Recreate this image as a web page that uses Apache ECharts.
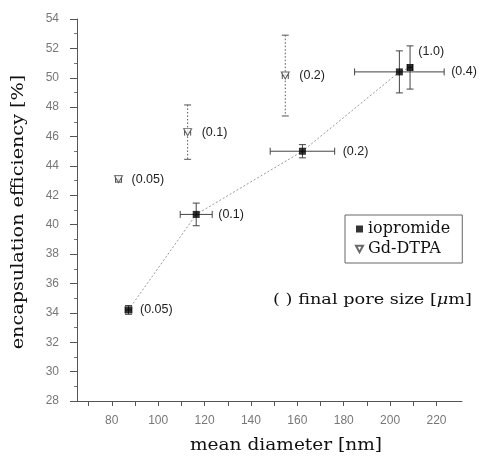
<!DOCTYPE html>
<html>
<head>
<meta charset="utf-8">
<script src="https://cdn.jsdelivr.net/npm/echarts@6/dist/echarts.min.js"></script>
<style>html,body{margin:0;padding:0;background:#fff}#c{width:480px;height:460px}</style>
</head>
<body>
<div id="c"></div>
<script>
// ---- data ----
const ioX    = [87.2, 116.4, 162.2, 204.0, 208.6];
const ioY    = [34.2, 40.7, 45.0, 50.4, 50.7];
const ioXErr = [1.5, 6.9, 13.9, 19.3, 1.0];
const ioYErr = [0.3, 0.77, 0.45, 1.43, 1.47];
const ioPore = ['(0.05)', '(0.1)', '(0.2)', '(0.4)', '(1.0)'];

const gdX    = [82.9, 112.7, 154.8];
const gdY    = [43.1, 46.3, 50.15];
const gdXErr = [1.3, 1.3, 1.3];
const gdYErr = [0.2, 1.85, 2.75];
const gdPore = ['(0.05)', '(0.1)', '(0.2)'];

const xTickValues  = [70, 80, 90, 100, 110, 120, 130, 140, 150, 160, 170, 180, 190, 200, 210, 220];
const xLabelValues = [80, 100, 120, 140, 160, 180, 200, 220];

const xTitle = 'mean diameter [nm]';
const yTitle = 'encapsulation efficiency [%]';
const noteText = '( ) final pore size [{i|μ}m]';

// label placement tweaks (styles, not data)
const ioLabelGap = [8, 6, 8, 7, 6];
const ioLabelDy  = [0, 0, 0, 0, -16];
const gdLabelGap = [10, 11, 11];

const serif = '"DejaVu Serif", "Liberation Serif", serif';
const sans = '"Liberation Sans", "DejaVu Sans", sans-serif';

function errRender(labels, gaps, dys, opts) {
  return function (params, api) {
    const i = params.dataIndex;
    const x = api.value(0), y = api.value(1), dx = api.value(2), dy = api.value(3);
    const c = api.coord([x, y]);
    const l = api.coord([x - dx, y]);
    const r = api.coord([x + dx, y]);
    const t = api.coord([x, y + dy]);
    const b = api.coord([x, y - dy]);
    const cap = 3.5;
    const hs = { stroke: opts.color, lineWidth: 1, lineDash: opts.dashH || null };
    const vs = { stroke: opts.color, lineWidth: 1, lineDash: opts.dashV || null };
    const cs = { stroke: opts.color, lineWidth: 1 };
    const ch = [
      { type: 'line', shape: { x1: l[0], y1: c[1], x2: r[0], y2: c[1] }, style: hs },
      { type: 'line', shape: { x1: l[0], y1: c[1] - cap, x2: l[0], y2: c[1] + cap }, style: cs },
      { type: 'line', shape: { x1: r[0], y1: c[1] - cap, x2: r[0], y2: c[1] + cap }, style: cs },
      { type: 'line', shape: { x1: c[0], y1: t[1], x2: c[0], y2: b[1] }, style: vs },
      { type: 'line', shape: { x1: c[0] - cap, y1: t[1], x2: c[0] + cap, y2: t[1] }, style: cs },
      { type: 'line', shape: { x1: c[0] - cap, y1: b[1], x2: c[0] + cap, y2: b[1] }, style: cs },
      { type: 'text', style: { text: labels[i], x: r[0] + gaps[i], y: c[1] + dys[i],
          verticalAlign: 'middle', align: 'left', fill: '#222', font: '12.5px ' + sans } }
    ];
    return { type: 'group', children: ch };
  };
}

const chart = echarts.init(document.getElementById('c'), null, { renderer: 'canvas' });
chart.setOption({
  animation: false,
  backgroundColor: '#fff',
  grid: { left: 77, right: 18, top: 19, bottom: 59 },
  xAxis: {
    type: 'value', min: 65, max: 231,
    axisLine: { show: true, lineStyle: { color: '#555', width: 1 } },
    axisTick: { show: true, customValues: xTickValues, length: 5, inside: false, lineStyle: { color: '#555' } },
    axisLabel: { customValues: xLabelValues, margin: 14, fontFamily: sans, fontSize: 12, color: '#777' },
    splitLine: { show: false }
  },
  yAxis: {
    type: 'value', min: 28, max: 54, interval: 2,
    axisLine: { show: true, lineStyle: { color: '#555', width: 1 } },
    axisTick: { show: true, length: 7, lineStyle: { color: '#555' } },
    minorTick: { show: true, splitNumber: 2, length: 3, lineStyle: { color: '#777' } },
    axisLabel: { margin: 18, fontFamily: sans, fontSize: 12, color: '#777' },
    splitLine: { show: false }
  },
  legend: {
    orient: 'vertical', left: 345, top: 215,
    data: ['iopromide', 'Gd-DTPA'],
    borderColor: '#666', borderWidth: 1, borderRadius: 0,
    padding: [6, 12, 6, 10], itemGap: 4, itemWidth: 7, itemHeight: 7,
    textStyle: { fontFamily: serif, fontSize: 16, color: '#111' }
  },
  series: [
    {
      type: 'line', name: 'connect', silent: true,
      data: ioX.map((x, i) => [x, ioY[i]]),
      symbol: 'none',
      lineStyle: { color: '#999', width: 1, type: [2, 2] },
      z: 1
    },
    {
      type: 'custom', name: 'ioErr', silent: true,
      data: ioX.map((x, i) => [x, ioY[i], ioXErr[i], ioYErr[i]]),
      encode: { x: 0, y: 1 },
      renderItem: errRender(ioPore, ioLabelGap, ioLabelDy, { color: '#444' }),
      z: 2
    },
    {
      type: 'custom', name: 'gdErr', silent: true,
      data: gdX.map((x, i) => [x, gdY[i], gdXErr[i], gdYErr[i]]),
      encode: { x: 0, y: 1 },
      renderItem: errRender(gdPore, gdLabelGap, [0, 0, 0], { color: '#555', dashV: [1.5, 2] }),
      z: 2
    },
    {
      type: 'scatter', name: 'iopromide',
      data: ioX.map((x, i) => [x, ioY[i]]),
      symbol: 'rect', symbolSize: 7,
      itemStyle: { color: '#000' },
      z: 5
    },
    {
      type: 'scatter', name: 'Gd-DTPA',
      data: gdX.map((x, i) => [x, gdY[i]]),
      symbol: 'path://M0,0 L10,0 L5,9 Z', symbolSize: [8, 7],
      itemStyle: { color: '#fff', borderColor: '#444', borderWidth: 1 },
      z: 5
    }
  ],
  graphic: [
    {
      type: 'text', x: 286, y: 446, scaleX: 1.16,
      style: { text: xTitle, font: '16px ' + serif, fill: '#111', align: 'center', verticalAlign: 'middle' }
    },
    {
      type: 'text', x: 19, y: 212, rotation: Math.PI / 2, scaleX: 1.2,
      style: { text: yTitle, font: '16px ' + serif, fill: '#111', align: 'center', verticalAlign: 'middle' }
    },
    {
      type: 'text', x: 472, y: 300, scaleX: 1.18,
      style: {
        text: noteText, align: 'right', verticalAlign: 'middle',
        font: '15px ' + serif, fill: '#111',
        rich: { i: { fontFamily: serif, fontSize: 15, fontStyle: 'italic', fill: '#111' } }
      }
    }
  ]
});
</script>
</body>
</html>
